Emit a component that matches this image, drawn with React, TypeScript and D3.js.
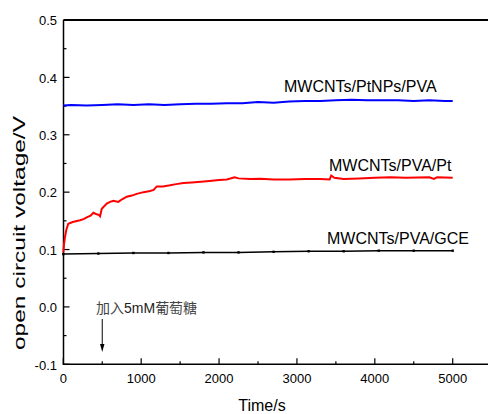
import React from "react";
import * as d3 from "d3";

const xTicks = [0, 1000, 2000, 3000, 4000, 5000];
const xMinor = [500, 1500, 2500, 3500, 4500];
const yTicks = [-0.1, 0.0, 0.1, 0.2, 0.3, 0.4, 0.5];
const yMinor = [-0.05, 0.05, 0.15, 0.25, 0.35, 0.45];

const blueT = [0, 100, 300, 500, 700, 900, 1100, 1300, 1500, 1700, 1900, 2100, 2300, 2500, 2700, 2900, 3100, 3300, 3500, 3700, 3900, 4100, 4300, 4500, 4700, 4900, 5000];
const blueV = [0.351, 0.352, 0.351, 0.352, 0.353, 0.352, 0.353, 0.352, 0.353, 0.354, 0.354, 0.355, 0.355, 0.357, 0.356, 0.358, 0.359, 0.359, 0.36, 0.361, 0.36, 0.36, 0.36, 0.359, 0.36, 0.359, 0.359];

const redT = [0, 10, 22, 40, 64, 120, 215, 260, 301, 350, 386, 420, 460, 472, 494, 558, 600, 643, 707, 760, 815, 880, 943, 1030, 1114, 1160, 1200, 1280, 1371, 1450, 1542, 1650, 1843, 2000, 2100, 2200, 2250, 2400, 2529, 2700, 2900, 3100, 3300, 3420, 3440, 3480, 3600, 3800, 4000, 4200, 4400, 4700, 4760, 4800, 5000];
const redV = [0.095, 0.11, 0.122, 0.135, 0.145, 0.148, 0.151, 0.153, 0.156, 0.159, 0.164, 0.162, 0.16, 0.158, 0.171, 0.18, 0.183, 0.185, 0.183, 0.188, 0.192, 0.194, 0.197, 0.2, 0.202, 0.204, 0.21, 0.21, 0.212, 0.214, 0.216, 0.217, 0.219, 0.221, 0.222, 0.226, 0.224, 0.223, 0.2235, 0.222, 0.222, 0.223, 0.223, 0.222, 0.229, 0.225, 0.223, 0.224, 0.225, 0.226, 0.225, 0.226, 0.223, 0.226, 0.225];

const blackT = [0, 450, 900, 1350, 1800, 2250, 2700, 3150, 3600, 4050, 4500, 5000];
const blackV = [0.092, 0.093, 0.094, 0.094, 0.095, 0.095, 0.096, 0.097, 0.097, 0.098, 0.098, 0.098];

const seriesLabels = ["MWCNTs/PtNPs/PVA", "MWCNTs/PVA/Pt", "MWCNTs/PVA/GCE"];
const annotationCJK1 = "加入";
const annotationLatin = "5mM";
const annotationCJK2 = "葡萄糖";
const annotationTime = 500;

const W = 488;
const H = 414;
const left = 63.5;
const top = 20;
const bottom = 364.3;

export default function App() {
  const x = d3.scaleLinear().domain([0, 5000]).range([63.3, 452.7]);
  const y = d3.scaleLinear().domain([-0.1, 0.5]).range([bottom, top]);
  const line = d3
    .line<[number, number]>()
    .x((d) => x(d[0]))
    .y((d) => y(d[1]))
    .curve(d3.curveLinear);
  const blue = blueT.map((t, i) => [t, blueV[i]] as [number, number]);
  const red = redT.map((t, i) => [t, redV[i]] as [number, number]);
  const black = blackT.map((t, i) => [t, blackV[i]] as [number, number]);
  const font = "Arial, 'Liberation Sans', sans-serif";
  const ax = x(annotationTime);
  return (
    <svg width={W} height={H} style={{ position: "absolute", left: 0, top: 0 }} fontFamily={font}>
      <rect width={W} height={H} fill="#fff" />
      {/* frame */}
      <line x1={left} x2={left} y1={top} y2={bottom} stroke="#000" strokeWidth={1.5} />
      <line x1={left} x2={W + 2} y1={top} y2={top} stroke="#000" strokeWidth={1.8} />
      <line x1={left - 0.75} x2={W + 2} y1={bottom} y2={bottom} stroke="#000" strokeWidth={1.5} />
      {/* y ticks */}
      {yTicks.map((v) => (
        <g key={"y" + v}>
          <line x1={left} x2={left + 6} y1={y(v)} y2={y(v)} stroke="#000" strokeWidth={1.2} />
          <text x={57} y={y(v)} dy="0.4em" textAnchor="end" fontSize={13}>
            {v.toFixed(1)}
          </text>
        </g>
      ))}
      {yMinor.map((v) => (
        <line key={"ym" + v} x1={left} x2={left + 3} y1={y(v)} y2={y(v)} stroke="#000" strokeWidth={1.2} />
      ))}
      {/* x ticks */}
      {xTicks.map((t) => (
        <g key={"x" + t}>
          <line x1={x(t)} x2={x(t)} y1={bottom} y2={bottom - 6} stroke="#000" strokeWidth={1.2} />
          <text x={x(t)} y={bottom + 19} textAnchor="middle" fontSize={13}>
            {t}
          </text>
        </g>
      ))}
      {xMinor.map((t) => (
        <line key={"xm" + t} x1={x(t)} x2={x(t)} y1={bottom} y2={bottom - 3} stroke="#000" strokeWidth={1.2} />
      ))}
      {/* axis titles */}
      <text x={262} y={411} textAnchor="middle" fontSize={16}>
        Time/s
      </text>
      <text
        transform={`translate(25, 233) rotate(-90)`}
        textAnchor="middle"
        fontSize={16}
        textLength={234}
        lengthAdjust="spacingAndGlyphs"
      >
        open circuit voltage/V
      </text>
      {/* series */}
      <path d={line(black) || ""} fill="none" stroke="#000" strokeWidth={1.5} />
      {black.map((d, i) => (
        <rect key={"bm" + i} x={x(d[0]) - 1.2} y={y(d[1]) - 1.2} width={2.4} height={2.4} fill="#000" />
      ))}
      <path d={line(red) || ""} fill="none" stroke="#ff0000" strokeWidth={2} />
      <path d={line(blue) || ""} fill="none" stroke="#0000ff" strokeWidth={2} />
      {/* series labels */}
      <text x={284} y={92} fontSize={16}>{seriesLabels[0]}</text>
      <text x={329} y={171} fontSize={16}>{seriesLabels[1]}</text>
      <text x={327} y={243.5} fontSize={16}>{seriesLabels[2]}</text>
      {/* annotation */}
      <text x={96} y={313} fontSize={14} fill="#222">
        <tspan fontFamily="'Noto Sans CJK SC', sans-serif" fill="#444">{annotationCJK1}</tspan>
        <tspan>{annotationLatin}</tspan>
        <tspan fontFamily="'Noto Sans CJK SC', sans-serif" fill="#444">{annotationCJK2}</tspan>
      </text>
      <line x1={ax} x2={ax} y1={319} y2={346} stroke="#000" strokeWidth={1} />
      <path d={`M${ax - 2.2},${344} L${ax + 2.2},${344} L${ax},${352} Z`} fill="#000" />
    </svg>
  );
}
